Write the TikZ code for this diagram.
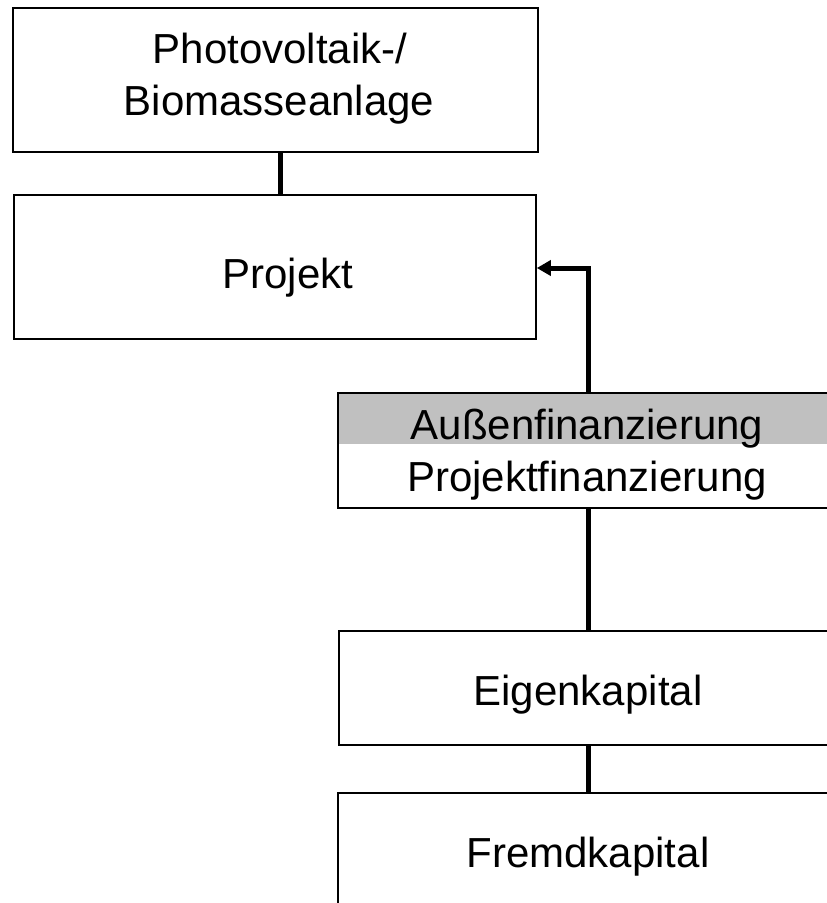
\documentclass[tikz,border=0pt]{standalone}
\usepackage{fontspec}
\setmainfont{Liberation Sans}
\usetikzlibrary{arrows.meta}
\definecolor{bandgray}{HTML}{C0C0C0}
\begin{document}
\begin{tikzpicture}[x=1pt,y=-1pt,
  boxnode/.style={draw=black, line width=1.8pt, inner sep=0pt, anchor=north west},
  txt/.style={inner sep=0pt, anchor=base, font=\fontsize{42}{52}\selectfont},
  conn/.style={draw=black, line width=5pt},
  arr/.style={draw=black, line width=5pt, -{Triangle[length=14pt,width=15pt]}}]
\useasboundingbox (0,0) rectangle (827,903);
\clip (0,0) rectangle (827,903);
% boxes
\node[boxnode, minimum width=525pt, minimum height=144pt] (pv) at (12,7) {};
\node[boxnode, minimum width=522pt, minimum height=144pt] (pj) at (13,194) {};
\node[boxnode, minimum width=500pt, minimum height=115pt,
  path picture={\fill[bandgray] (path picture bounding box.north west) rectangle ([yshift=-51pt]path picture bounding box.north east);}] (af) at (337,392) {};
\node[boxnode, minimum width=500pt, minimum height=114pt] (ek) at (338,630) {};
\node[boxnode, minimum width=500pt, minimum height=130pt] (fk) at (337,792) {};
% texts
\node[txt] (t1) at (280,63) {Photovoltaik-/};
\node[txt] (t2) at (279,115) {Biomasseanlage};
\node[txt] (t3) at (288,288) {Projekt};
\node[txt] (t4) at (587,439) {Außenfinanzierung};
\node[txt] (t5) at (587,491) {Projektfinanzierung};
\node[txt] (t6) at (588,705) {Eigenkapital};
\node[txt] (t7) at (588,867) {Fremdkapital};
% connectors
\coordinate (xa) at (280,0);
\coordinate (xb) at (588,0);
\coordinate (ya) at (0,268);
\draw[conn] (pv.south -| xa) -- (pj.north -| xa);
\draw[conn] (af.south -| xb) -- (ek.north -| xb);
\draw[conn] (ek.south -| xb) -- (fk.north -| xb);
\draw[arr] (af.north -| xb) -- (ya -| xb) -- (ya -| pj.east);
\end{tikzpicture}
\end{document}
